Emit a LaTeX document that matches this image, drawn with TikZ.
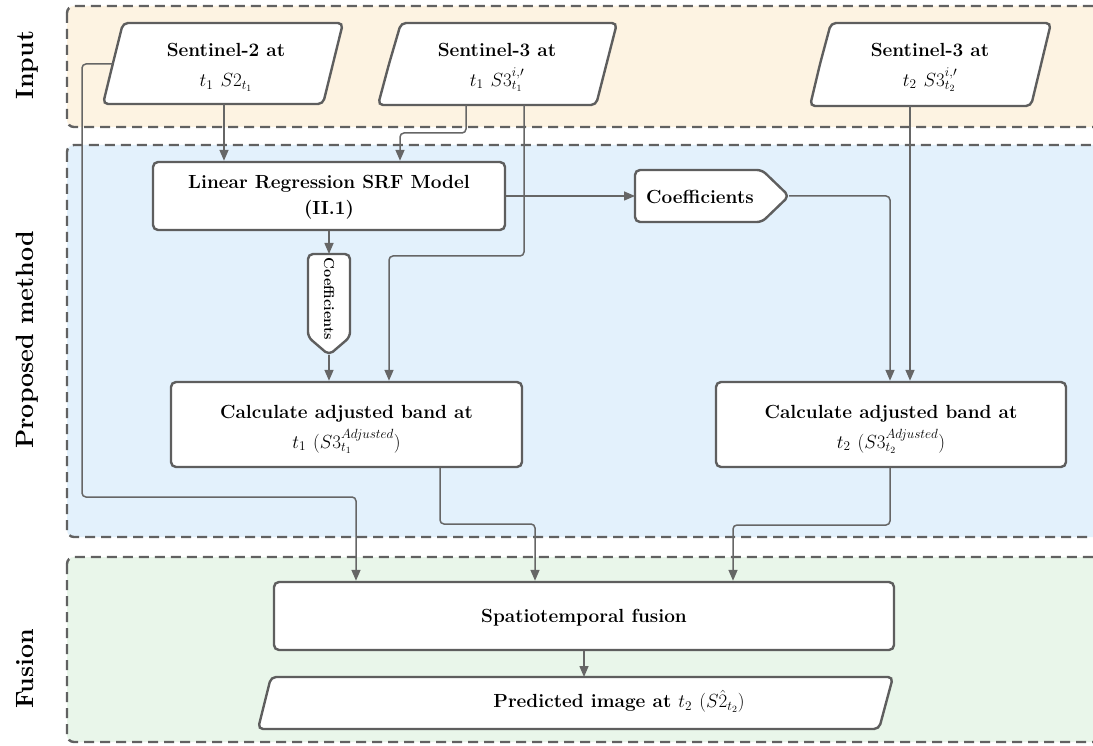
\documentclass[tikz,border=0pt]{standalone}
\usepackage{fix-cm}
\usetikzlibrary{arrows.meta,calc}
\definecolor{inbg}{HTML}{FDF3E2}
\definecolor{pmbg}{HTML}{E3F1FC}
\definecolor{fubg}{HTML}{E9F6EA}
\definecolor{dashgray}{HTML}{616161}
\definecolor{boxgray}{HTML}{5E5E5E}
\definecolor{linegray}{HTML}{666666}
\tikzset{
  band/.style={draw=dashgray, line width=2.4pt, dash pattern=on 10pt off 6pt, rounded corners=7pt},
  boxline/.style={draw=boxgray, line width=2.4pt, rounded corners=5pt, fill=white},
  rectbox/.style={boxline, rectangle, inner sep=0pt},
  conn/.style={draw=linegray, line width=1.5pt, rounded corners=4pt, -{Triangle[length=11pt,width=9pt]}},
  txt/.style={font=\bfseries\fontsize{19}{30}\selectfont, align=center, inner sep=0pt},
  sidelbl/.style={font=\bfseries\fontsize{25}{30}\selectfont, rotate=90, anchor=base, inner sep=0pt},
}
\begin{document}
\begin{tikzpicture}[x=1pt,y=-1pt]
\useasboundingbox (0,0) rectangle (1093,746);
\clip (0,0) rectangle (1093,746);
\fill[white] (0,0) rectangle (1093,746);

% bands
\draw[band, fill=inbg] (67,6) rectangle (1115,127);
\draw[band, fill=pmbg] (67,145) rectangle (1115,537);
\draw[band, fill=fubg] (67,557) rectangle (1115,742);

% side labels
\node[sidelbl] (lblin) at (33,65) {Input};
\node[sidelbl] (lblpm) at (33,340) {Proposed method};
\node[sidelbl] (lblfu) at (33,669) {Fusion};

% input parallelograms
\draw[boxline] (113,63) -- (123,23) -- (343,23) -- (323,104) -- (103,104) -- cycle;
\node[txt] (s2) at (226,67) {Sentinel-2 at\\ $t_1\ S2_{t_1}$};
\coordinate (s2-left) at (113,64);
\coordinate (s2-bot) at (224,104);

\draw[boxline] (389,64) -- (401,23) -- (617,23) -- (596,105) -- (378,105) -- cycle;
\node[txt] (s3a) at (497,67) {Sentinel-3 at\\ $t_1\ S3^{i,\prime}_{t_1}$};
\coordinate (s3a-bot1) at (466,105);
\coordinate (s3a-bot2) at (524,105);

\draw[boxline] (820,64) -- (831,23) -- (1051,23) -- (1031,106) -- (810,106) -- cycle;
\node[txt] (s3b) at (930,67) {Sentinel-3 at\\ $t_2\ S3^{i,\prime}_{t_2}$};
\coordinate (s3b-bot) at (910,106);

% proposed method boxes
\node[rectbox, minimum width=352pt, minimum height=68pt] (lr) at (329,196) {};
\node[txt, font=\bfseries\fontsize{19}{26}\selectfont] (lrt) at (329,197) {Linear Regression SRF Model\\(II.1)};

\draw[boxline] (635,196) -- (635,170) -- (762,170) -- (789,196) -- (762,222) -- (635,222) -- cycle;
\node[txt] (ch) at (700,197) {Coefficients};
\coordinate (ch-w) at (635,196);
\coordinate (ch-tip) at (789,196);

\draw[boxline] (308,290) -- (308,254) -- (350,254) -- (350,337) -- (329,355) -- (308,337) -- cycle;
\node[txt, font=\bfseries\fontsize{14.5}{16}\selectfont, rotate=-90] (cv) at (329,299) {Coefficients};
\coordinate (cv-top) at (329,254);
\coordinate (cv-tip) at (329,355);

\node[rectbox, minimum width=351pt, minimum height=85pt] (c1) at (346.5,424.5) {};
\node[txt] (c1t) at (346.5,429) {Calculate adjusted band at\\ $t_1\ (S3^{Adjusted}_{t_1})$};

\node[rectbox, minimum width=350pt, minimum height=85pt] (c2) at (891,424.5) {};
\node[txt] (c2t) at (891,429) {Calculate adjusted band at\\ $t_2\ (S3^{Adjusted}_{t_2})$};

% fusion
\node[rectbox, minimum width=620pt, minimum height=68pt] (sf) at (584,616) {};
\node[txt] (sft) at (584,618) {Spatiotemporal fusion};

\draw[boxline] (264.5,703) -- (271,677) -- (893,677) -- (879,729) -- (258,729) -- cycle;
\node[txt] (pr) at (619,701) {Predicted image at $t_2\ (S\hat{2}_{t_2})$};
\coordinate (pr-top) at (584,677);

% connectors
\draw[conn] (s2-left) -- (82,64) -- (82,497) -- (356,497) -- (sf.north -| 356,0);
\draw[conn] (s2-bot) -- (lr.north -| s2-bot);
\draw[conn] (s3a-bot1) -- (466,133) -- (400,133) -- (lr.north -| 400,0);
\draw[conn] (s3a-bot2) -- (524,256) -- (389,256) -- (c1.north -| 389,0);
\draw[conn] (s3b-bot) -- (c2.north -| s3b-bot);
\draw[conn] (lr.east) -- (ch-w);
\draw[conn] (ch-tip) -- (890,196) -- (c2.north -| 890,0);
\draw[conn] (lr.south) -- (cv-top);
\draw[conn] (cv-tip) -- (c1.north -| cv-tip);
\draw[conn] (c1.south -| 440,0) -- (440,524) -- (535,524) -- (sf.north -| 535,0);
\draw[conn] (c2.south -| 890,0) -- (890,525) -- (733,525) -- (sf.north -| 733,0);
\draw[conn] (sf.south) -- (pr-top);
\end{tikzpicture}
\end{document}
